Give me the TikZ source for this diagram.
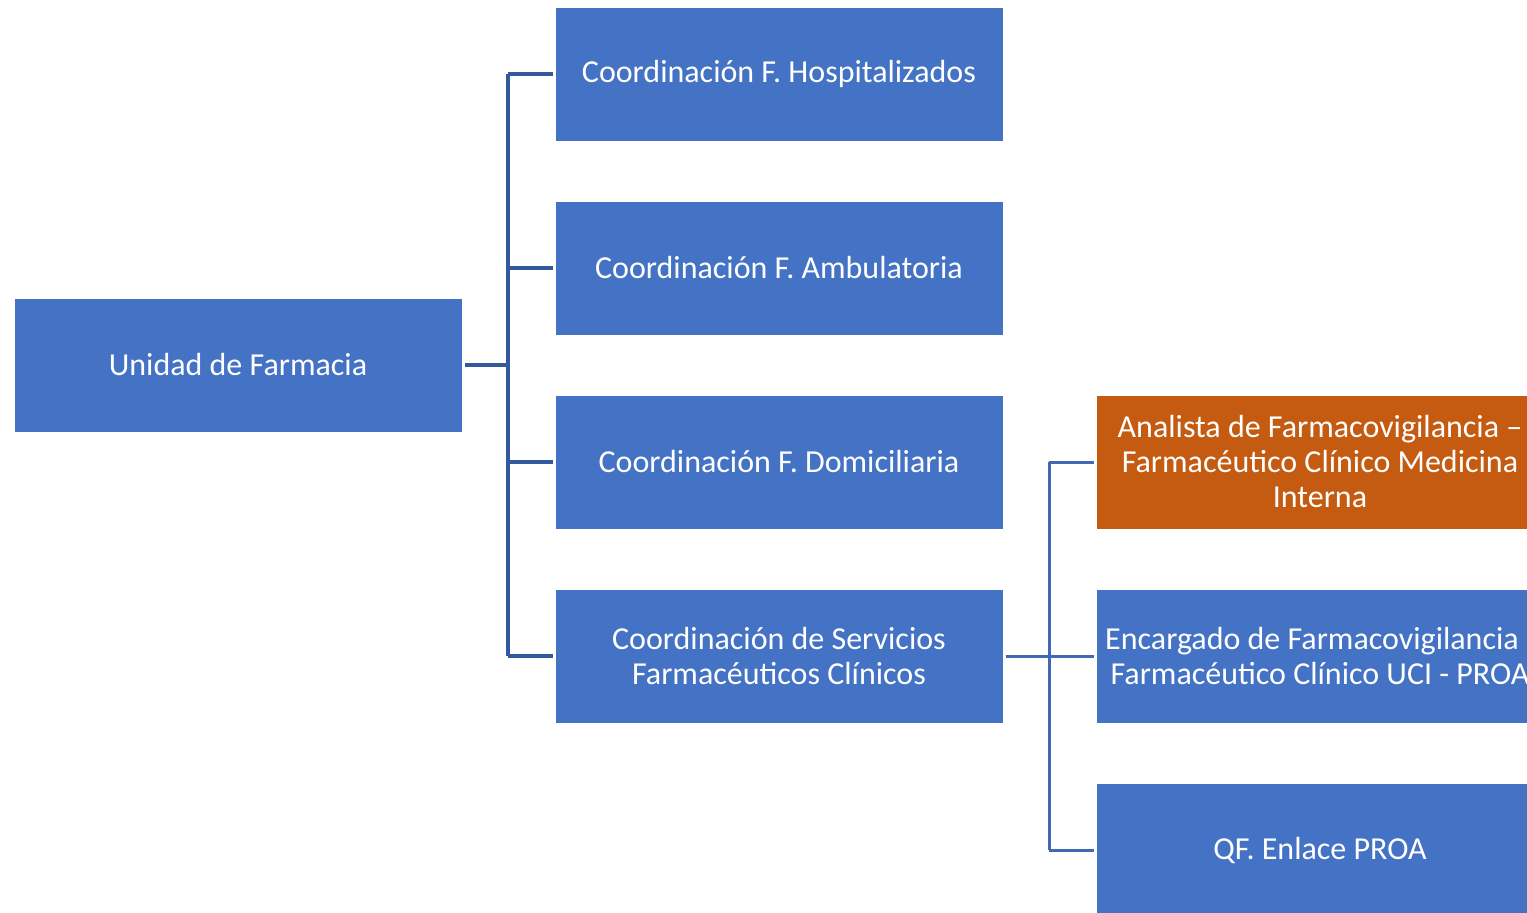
\documentclass[tikz,border=0pt]{standalone}
\usepackage{fontspec}
\setmainfont{Carlito}
\usetikzlibrary{calc}

\definecolor{boxblue}{HTML}{4472C4}
\definecolor{boxorange}{HTML}{C55A11}
\definecolor{linkdark}{HTML}{34589E}
\definecolor{linklight}{HTML}{3F69B5}

\begin{document}
\begin{tikzpicture}[
    x=1pt,y=-1pt,
    unitbox/.style={
        draw=white,line width=1pt,fill=boxblue,text=white,
        minimum width=448pt,minimum height=134pt,
        inner sep=0pt,outer sep=2.5pt,align=center,
        font=\fontsize{32pt}{35pt}\selectfont,
    },
    hotbox/.style={unitbox,fill=boxorange},
    link/.style={draw=linkdark,line width=3.2pt},
    sublink/.style={draw=linklight,line width=3pt},
]
    \useasboundingbox (0,0) rectangle (1527,913);
    \clip (0,0) rectangle (1527,913);

    % left column
    \node[unitbox] (unidad) at (238,365) {Unidad de Farmacia};

    % coordinaciones
    \node[unitbox] (hosp) at (779,74)  {Coordinación F. Hospitalizados};
    \node[unitbox] (amb)  at (779,268) {Coordinación F. Ambulatoria};
    \node[unitbox] (dom)  at (779,462) {Coordinación F. Domiciliaria};
    \node[unitbox] (serv) at (779,656) {Coordinación de Servicios\\Farmacéuticos Clínicos};

    % servicios clinicos
    \node[hotbox]  (analista)  at (1320,462) {Analista de Farmacovigilancia --\\Farmacéutico Clínico Medicina\\Interna};
    \node[unitbox] (encargado) at (1320,656) {Encargado de Farmacovigilancia\hspace*{16pt}\\Farmacéutico Clínico UCI - PROA};
    \node[unitbox] (enlace)    at (1320,850) {QF. Enlace PROA};

    % connectors
    \coordinate (trunk) at (508,365);
    \draw[link] (unidad.east) -- (trunk);
    \draw[link] (trunk |- hosp.west) -- (trunk |- serv.west);
    \foreach \n in {hosp,amb,dom,serv}
        \draw[link] (trunk |- \n.west) -- (\n.west);

    \coordinate (subtrunk) at (1049,656);
    \draw[sublink] (serv.east) -- (subtrunk);
    \draw[sublink] (subtrunk |- analista.west) -- (subtrunk |- enlace.west);
    \foreach \n in {analista,encargado,enlace}
        \draw[sublink] (subtrunk |- \n.west) -- (\n.west);
\end{tikzpicture}
\end{document}
